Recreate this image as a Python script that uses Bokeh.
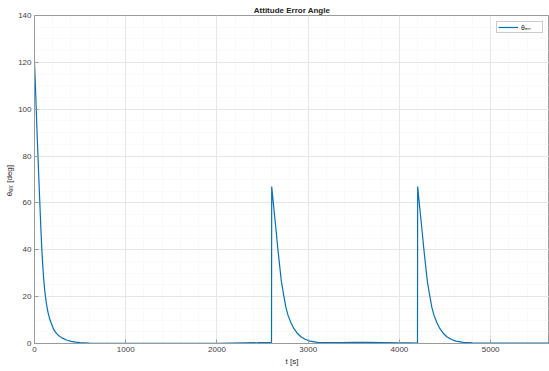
from bokeh.plotting import figure
from bokeh.models import Range1d, SingleIntervalTicker, Legend, LegendItem
from bokeh.embed import file_html
from bokeh.resources import INLINE

# ---- data ----
t_s = [0, 10, 20, 30, 40, 50, 60, 70, 80, 90, 100, 110, 120, 135, 150, 170, 190, 210,
       240, 270, 300, 350, 400, 450, 500, 600, 800, 1000, 1500, 2000, 2300, 2450, 2598,
       2600, 2615, 2633, 2650, 2666, 2685, 2706, 2730, 2755, 2779, 2810, 2840, 2878,
       2920, 2970, 3020, 3100, 3200, 3350, 3500, 3650, 3800, 4000, 4100, 4198,
       4200, 4215, 4233, 4250, 4266, 4285, 4306, 4330, 4355, 4379, 4410, 4440, 4478,
       4520, 4570, 4620, 4700, 4800, 5000, 5200, 5400, 5645]
theta_err_deg = [120, 110, 99, 88, 78, 68, 58.5, 49, 40.5, 33.5, 28, 23.5, 20, 16, 13, 10, 8, 6,
                 4.3, 3.2, 2.4, 1.5, 0.9, 0.55, 0.35, 0.15, 0.06, 0.03, 0.05, 0.1, 0.25, 0.35, 0.5,
                 67, 61, 54, 47.5, 41, 34, 26.5, 21, 15.5, 12, 9, 6.6, 4.5,
                 2.9, 1.7, 1.0, 0.5, 0.35, 0.4, 0.5, 0.45, 0.4, 0.3, 0.25, 0.2,
                 67, 61, 54, 47.5, 41, 34, 26.5, 21, 15.5, 12, 9, 6.6, 4.5,
                 2.9, 1.7, 1.0, 0.5, 0.3, 0.15, 0.15, 0.2, 0.2]

x_ticks = [0, 1000, 2000, 3000, 4000, 5000]
y_ticks = [0, 20, 40, 60, 80, 100, 120, 140]

FONT = "Liberation Sans"
AXIS_COL = "#9a9a9a"
LABEL_COL = "#404040"

p = figure(width=549, height=371, output_backend="svg", toolbar_location=None,
           x_range=Range1d(0, 5645), y_range=Range1d(0, 140),
           min_border_left=34, min_border_right=0, min_border_top=15, min_border_bottom=28,
           background_fill_color="white", border_fill_color="white")

p.title.text = "Attitude Error Angle"
p.title.align = "center"
p.title.text_font = FONT
p.title.text_font_size = "8px"
p.title.text_font_style = "bold"
p.title.text_color = "#222222"
p.title.offset = 0
p.title.standoff = 2

p.outline_line_color = AXIS_COL
p.outline_line_width = 1

r = p.line(t_s, theta_err_deg, line_color="#0072BD", line_width=1.2)

for ax in (p.xaxis[0], p.yaxis[0]):
    ax.axis_line_color = AXIS_COL
    ax.major_tick_line_color = AXIS_COL
    ax.major_tick_in = 4
    ax.major_tick_out = 0
    ax.minor_tick_in = 0
    ax.minor_tick_out = 0
    ax.major_label_text_font = FONT
    ax.major_label_text_font_size = "8px"
    ax.major_label_text_color = LABEL_COL
    ax.axis_label_text_font = FONT
    ax.axis_label_text_font_size = "8px"
    ax.axis_label_text_font_style = "normal"
    ax.axis_label_text_color = "#262626"

p.xaxis[0].ticker = SingleIntervalTicker(interval=1000, num_minor_ticks=5)
p.yaxis[0].ticker = SingleIntervalTicker(interval=20, num_minor_ticks=4)
p.xaxis[0].axis_label = "t [s]"
p.yaxis[0].axis_label = "θₑᵣᵣ  [deg]"
p.xaxis[0].major_label_standoff = 3
p.yaxis[0].major_label_standoff = 3
p.xaxis[0].axis_label_standoff = 2
p.yaxis[0].axis_label_standoff = 1

p.xgrid.grid_line_color = "#e6e6e6"
p.ygrid.grid_line_color = "#e6e6e6"
p.xgrid.minor_grid_line_color = "#f2f2f2"
p.ygrid.minor_grid_line_color = "#f2f2f2"
p.xgrid.minor_grid_line_dash = "1 1"
p.ygrid.minor_grid_line_dash = "1 1"

legend = Legend(items=[LegendItem(label="θₑᵣᵣ", renderers=[r])], location="top_right")
legend.label_text_font = FONT
legend.label_text_font_size = "7px"
legend.label_text_color = "#262626"
legend.glyph_width = 20
legend.glyph_height = 8
legend.label_height = 8
legend.padding = 1
legend.margin = 6
legend.spacing = 0
legend.label_standoff = 3
legend.border_line_color = "#999999"
legend.border_line_width = 1
p.add_layout(legend)

open("out.html", "w").write(file_html(p, INLINE))
